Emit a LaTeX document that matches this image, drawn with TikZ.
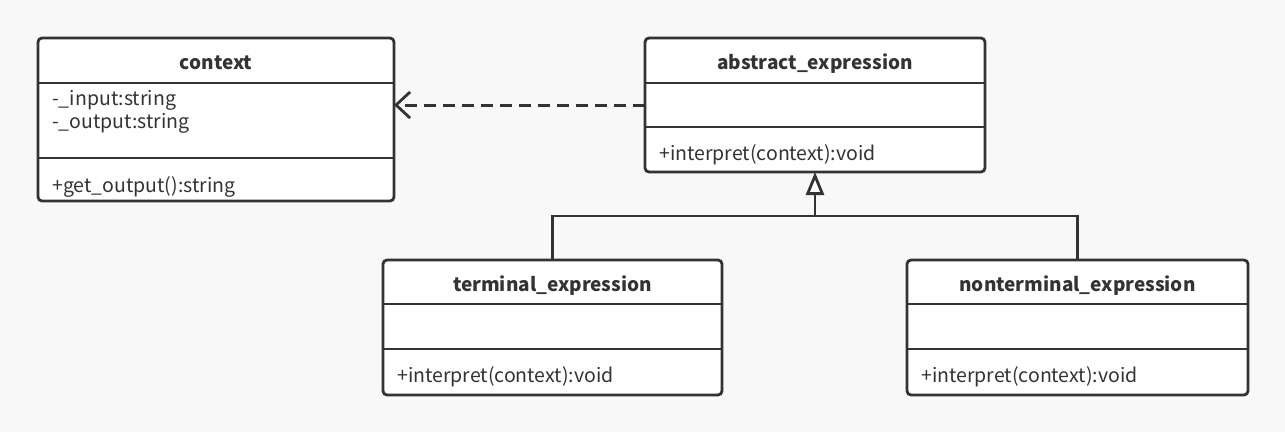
\documentclass[tikz,border=0pt]{standalone}
\usepackage{fontspec}
\setmainfont{Noto Sans CJK SC}
\usetikzlibrary{arrows.meta}
\definecolor{canvas}{HTML}{F8F8F8}
\definecolor{ink}{HTML}{333333}
\tikzset{
  classbox/.style={draw=ink, fill=white, line width=2.8pt, rounded corners=4pt,
    rectangle, inner sep=0pt, outer sep=0pt},
  divider/.style={draw=ink, line width=2.8pt},
  title/.style={anchor=base, text=ink, font=\fontsize{19}{23}\selectfont\bfseries, inner sep=0pt},
  member/.style={anchor=base west, text=ink, font=\fontsize{19.5}{23}\selectfont, inner sep=0pt},
  depends/.style={draw=ink, line width=3pt, dash pattern=on 12pt off 7pt,
    -{Straight Barb[length=14pt, width=26pt, line width=2.8pt]}},
  inherits/.style={draw=ink, line width=2.8pt},
  inherittip/.style={draw=ink, line width=2.8pt,
    -{Triangle[open, length=23pt, width=18pt, line width=2.8pt, fill=white]}},
}
\begin{document}
\begin{tikzpicture}[x=1pt, y=-1pt]
  \fill[canvas] (0,0) rectangle (1285,432);
  \useasboundingbox (0,0) rectangle (1285,432);

  % class: context
  \node[classbox, minimum width=356pt, minimum height=163pt] (context) at (216,119.5) {};
  \draw[divider] (context.west |- 0,83) -- (context.east |- 0,83);
  \draw[divider] (context.west |- 0,158) -- (context.east |- 0,158);
  \node[title] (contextT) at (216,69) {context};
  \node[member] (contextA1) at (52,105) {-\_input:string};
  \node[member] (contextA2) at (52,128) {-\_output:string};
  \node[member] (contextM) at (52,192) {+get\_output():string};

  % class: abstract_expression
  \node[classbox, minimum width=340pt, minimum height=134pt] (abstract) at (815,105) {};
  \draw[divider] (abstract.west |- 0,83) -- (abstract.east |- 0,83);
  \draw[divider] (abstract.west |- 0,127) -- (abstract.east |- 0,127);
  \node[title] (abstractT) at (815,69) {abstract\_expression};
  \node[member] (abstractM) at (659,160) {+interpret(context):void};

  % class: terminal_expression
  \node[classbox, minimum width=339pt, minimum height=135pt] (terminal) at (552.5,327.5) {};
  \draw[divider] (terminal.west |- 0,304) -- (terminal.east |- 0,304);
  \draw[divider] (terminal.west |- 0,349) -- (terminal.east |- 0,349);
  \node[title] (terminalT) at (552.5,291) {terminal\_expression};
  \node[member] (terminalM) at (397,382) {+interpret(context):void};

  % class: nonterminal_expression
  \node[classbox, minimum width=341pt, minimum height=135pt] (nonterminal) at (1077.5,327.5) {};
  \draw[divider] (nonterminal.west |- 0,304) -- (nonterminal.east |- 0,304);
  \draw[divider] (nonterminal.west |- 0,349) -- (nonterminal.east |- 0,349);
  \node[title] (nonterminalT) at (1077.5,291) {nonterminal\_expression};
  \node[member] (nonterminalM) at (921,382) {+interpret(context):void};

  % dependency: abstract_expression uses context
  \draw[depends] (abstract.west) -- (abstract.west -| context.east);

  % generalisation tree
  \coordinate (join) at (abstract.south |- 0,216);
  \draw[inherits] (terminal.north) |- (join) -| (nonterminal.north);
  \draw[inherittip] (join) -- (abstract.south);
\end{tikzpicture}
\end{document}
